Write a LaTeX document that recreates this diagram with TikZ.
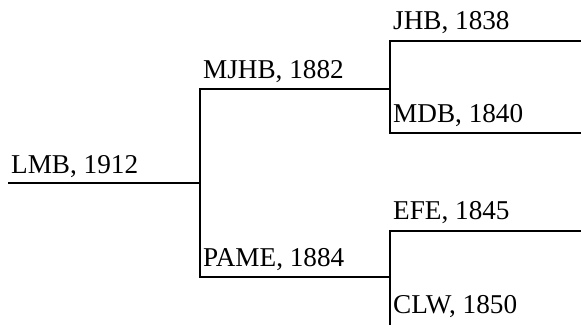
\documentclass[tikz,border=0pt]{standalone}
\usepackage{fontspec}
\setmainfont{Liberation Serif}
\begin{document}
\begin{tikzpicture}[x=1pt,y=-1pt,
  lbl/.style={anchor=base west,inner sep=0pt,font=\fontsize{27.2}{30}\selectfont},
  edge/.style={line width=2pt,line cap=rect}]
\useasboundingbox (0,0) rectangle (581,324);
\clip (0,0) rectangle (581,324);
% labels
\node[lbl] (lmb)  at (11,173) {LMB, 1912};
\node[lbl] (mjhb) at (203,78) {MJHB, 1882};
\node[lbl] (pame) at (203,266) {PAME, 1884};
\node[lbl] (jhb)  at (393,29) {JHB, 1838};
\node[lbl] (mdb)  at (393,122) {MDB, 1840};
\node[lbl] (efe)  at (393,219) {EFE, 1845};
\node[lbl] (clw)  at (393,313) {CLW, 1850};
% tree coordinates
\coordinate (r0) at (9,183);
\coordinate (r1) at (200,183);
\coordinate (m0) at (200,89);
\coordinate (m1) at (390,89);
\coordinate (p0) at (200,277);
\coordinate (p1) at (390,277);
\coordinate (j0) at (390,41);
\coordinate (j1) at (583,41);
\coordinate (d0) at (390,133);
\coordinate (d1) at (583,133);
\coordinate (e0) at (390,231);
\coordinate (e1) at (583,231);
\coordinate (c0) at (390,326);
\coordinate (c1) at (583,326);
\draw[edge] (r0) -- (r1);
\draw[edge] (m0) -- (p0);
\draw[edge] (m0) -- (m1);
\draw[edge] (p0) -- (p1);
\draw[edge] (j0) -- (d0);
\draw[edge] (j0) -- (j1);
\draw[edge] (d0) -- (d1);
\draw[edge] (e0) -- (c0);
\draw[edge] (e0) -- (e1);
\draw[edge] (c0) -- (c1);
\end{tikzpicture}
\end{document}
